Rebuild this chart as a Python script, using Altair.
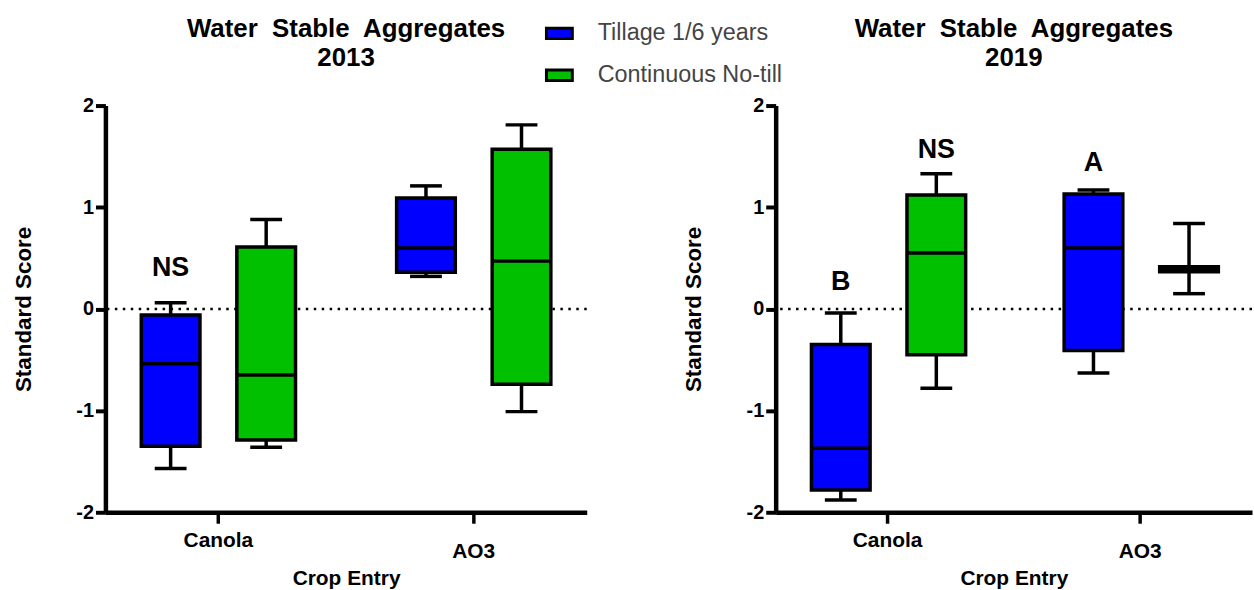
import altair as alt
import pandas as pd

# Categories
crops = ["Canola", "AO3"]
treatments = ["Tillage 1/6 years", "Continuous No-till"]
colors = ["#0000FF", "#00C000"]

# One box per crop x treatment, in this order
box_crop = ["Canola", "Canola", "AO3", "AO3"]
box_treat = [treatments[0], treatments[1], treatments[0], treatments[1]]

# Standard score summaries, 2013
wsa13_min = [-1.57, -1.36, 0.32, -1.01]
wsa13_q1 = [-1.35, -1.29, 0.36, -0.74]
wsa13_med = [-0.54, -0.65, 0.60, 0.47]
wsa13_q3 = [-0.06, 0.61, 1.09, 1.57]
wsa13_max = [0.06, 0.88, 1.21, 1.81]

# Standard score summaries, 2019
wsa19_min = [-1.88, -0.78, -0.63, 0.15]
wsa19_q1 = [-1.78, -0.45, -0.41, 0.365]
wsa19_med = [-1.37, 0.55, 0.60, 0.39]
wsa19_q3 = [-0.35, 1.12, 1.13, 0.415]
wsa19_max = [-0.04, 1.33, 1.17, 0.84]

# Significance letters
sig13_crop = ["Canola"]
sig13_treat = [treatments[0]]
sig13_y = [0.40]
sig13_text = ["NS"]

sig19_crop = ["Canola", "Canola", "AO3"]
sig19_treat = [treatments[0], treatments[1], treatments[0]]
sig19_y = [0.265, 1.56, 1.43]
sig19_text = ["B", "NS", "A"]

FONT = "Liberation Sans"
LINE_W = 3.5
TITLE_MAIN = "Water\u00a0 Stable\u00a0 Aggregates"


def panel(year, mins, q1s, meds, q3s, maxs, s_crop, s_treat, s_y, s_text, width):
    boxes = pd.DataFrame({
        "crop": box_crop, "treatment": box_treat,
        "lo": mins, "q1": q1s, "med": meds, "q3": q3s, "hi": maxs,
    })
    sig = pd.DataFrame({"crop": s_crop, "treatment": s_treat, "y": s_y, "label": s_text})

    x = alt.X(
        "crop:N", sort=crops,
        scale=alt.Scale(paddingInner=0.2, paddingOuter=0.0425),
        axis=alt.Axis(
            title="Crop Entry", labelAngle=0, labelFontSize=21, labelFontWeight="bold",
            labelColor="black",
            labelBaseline={"condition": {"test": "datum.value === 'AO3'", "value": "top"},
                           "value": "middle"},
            labelPadding=17, tickSize=11, tickWidth=LINE_W, tickColor="black",
            domainWidth=4.5, domainColor="black", titleFontSize=21, titleFontWeight="bold",
            titleColor="black", titlePadding=7,
        ),
    )
    xo = alt.XOffset("treatment:N", sort=treatments,
                     scale=alt.Scale(paddingInner=0, paddingOuter=0.069))
    yscale = alt.Scale(domain=[-2, 2], nice=False, zero=False)
    yaxis = alt.Axis(
        title="Standard Score", values=[-2, -1, 0, 1, 2], labelExpr="'' + datum.value",
        labelFontSize=20, labelFontWeight="bold", labelColor="black", labelPadding=2,
        tickSize=10, tickWidth=4, tickColor="black", domainWidth=4.5, domainColor="black",
        titleFontSize=22.5, titleFontWeight="bold", titleColor="black", titlePadding=40.5,
        grid=False,
    )
    color = alt.Color(
        "treatment:N", sort=treatments,
        scale=alt.Scale(domain=treatments, range=colors),
        legend=alt.Legend(
            title=None, orient="none", legendX=442, legendY=-87,
            symbolType="M-1,-0.4H1V0.4H-1Z", symbolSize=676,
            symbolStrokeColor="black", symbolStrokeWidth=3,
            labelFontSize=23.5, labelColor="#444444", labelFont=FONT, labelLimit=400,
            labelOffset=24, rowPadding=16,
        ),
    )

    base = alt.Chart(boxes)
    zero = alt.Chart(pd.DataFrame({"z": [0]})).mark_rule(
        color="black", strokeWidth=2.5, strokeDash=[2.5, 5.5]
    ).encode(y=alt.Y("z:Q", scale=yscale, axis=yaxis))
    whisk = base.mark_rule(color="black", strokeWidth=LINE_W).encode(
        x=x, xOffset=xo, y=alt.Y("lo:Q", scale=yscale, axis=yaxis), y2="hi:Q")
    cap_lo = base.mark_tick(color="black", size=32, thickness=LINE_W, opacity=1).encode(
        x=x, xOffset=xo, y=alt.Y("lo:Q", scale=yscale, axis=yaxis))
    cap_hi = base.mark_tick(color="black", size=32, thickness=LINE_W, opacity=1).encode(
        x=x, xOffset=xo, y=alt.Y("hi:Q", scale=yscale, axis=yaxis))
    box = base.mark_bar(size=59, stroke="black", strokeWidth=LINE_W, opacity=1).encode(
        x=x, xOffset=xo, y=alt.Y("q1:Q", scale=yscale, axis=yaxis), y2="q3:Q", color=color)
    med = base.mark_tick(color="black", size=59, thickness=LINE_W, opacity=1).encode(
        x=x, xOffset=xo, y=alt.Y("med:Q", scale=yscale, axis=yaxis))
    letters = alt.Chart(sig).mark_text(
        font=FONT, fontSize=27, fontWeight="bold", color="black", baseline="middle"
    ).encode(x=x, xOffset=xo, y=alt.Y("y:Q", scale=yscale, axis=yaxis), text="label:N")

    return alt.layer(zero, whisk, cap_lo, cap_hi, box, med, letters).properties(
        width=width, height=409,
        title=alt.TitleParams(
            [TITLE_MAIN, year], fontSize=26, fontWeight="bold",
            font=FONT, color="black", lineHeight=29, anchor="middle", offset=24.5,
        ),
    )


left = panel("2013", wsa13_min, wsa13_q1, wsa13_med, wsa13_q3, wsa13_max,
             sig13_crop, sig13_treat, sig13_y, sig13_text, 484)
right = panel("2019", wsa19_min, wsa19_q1, wsa19_med, wsa19_q3, wsa19_max,
              sig19_crop, sig19_treat, sig19_y, sig19_text, 479)

chart = alt.hconcat(left, right, spacing=94).properties(
    padding={"left": 12, "top": 14.5, "right": 0, "bottom": 0},
    background="white",
).configure(font=FONT).configure_view(stroke=None)

chart.save("out.html", embed_options={"renderer": "svg", "actions": False})
